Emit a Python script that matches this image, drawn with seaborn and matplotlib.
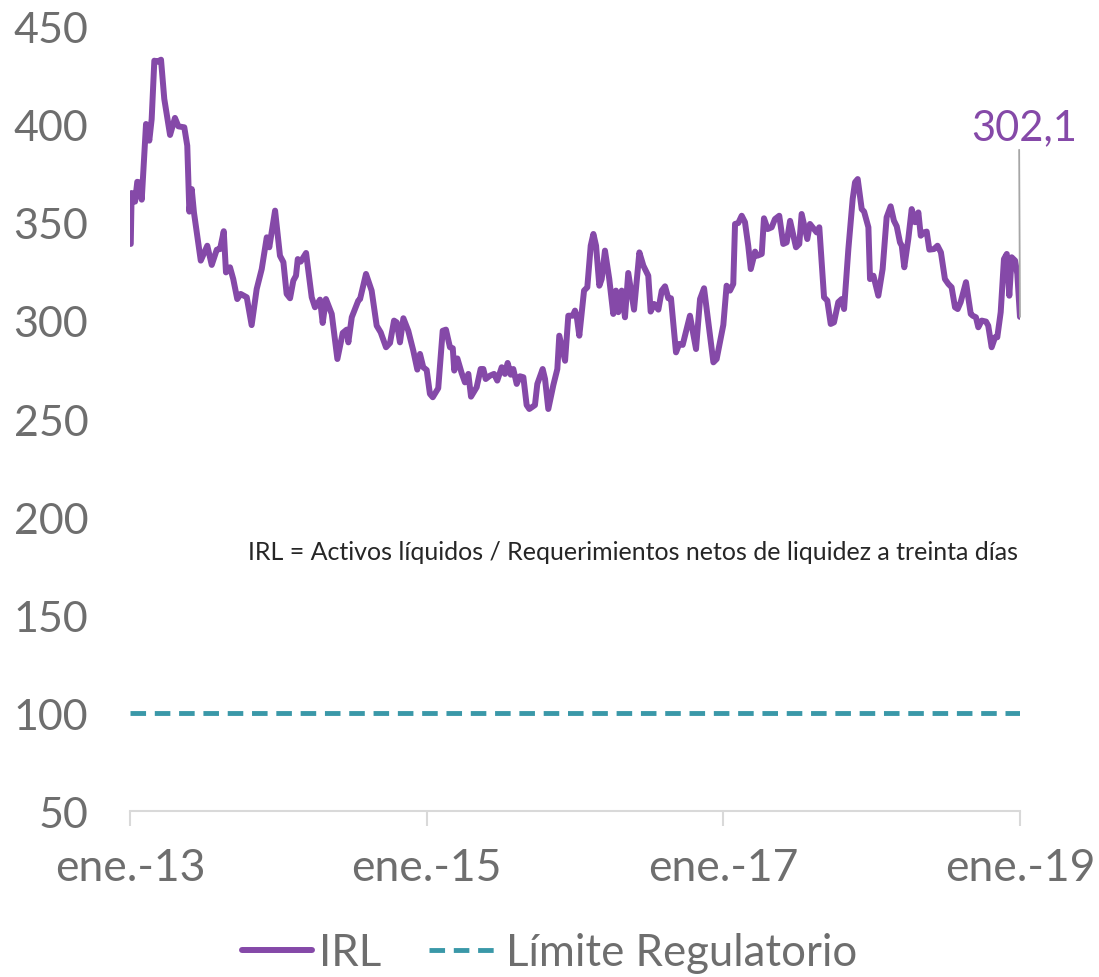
import numpy as np
import pandas as pd
import matplotlib
matplotlib.use("Agg")
import matplotlib.pyplot as plt
import seaborn as sns

# Fecha en años decimales y valor del IRL
fechas = [
    2013.005, 2013.011, 2013.034, 2013.049, 2013.063, 2013.079, 2013.108, 2013.130,
    2013.146, 2013.164, 2013.184, 2013.209, 2013.231, 2013.270, 2013.303, 2013.326,
    2013.366, 2013.386, 2013.400, 2013.416, 2013.431, 2013.477, 2013.521, 2013.551,
    2013.585, 2013.607, 2013.632, 2013.647, 2013.674, 2013.696, 2013.723, 2013.746,
    2013.787, 2013.820, 2013.854, 2013.888, 2013.922, 2013.939, 2013.978, 2014.011,
    2014.034, 2014.056, 2014.079, 2014.101, 2014.119, 2014.131, 2014.151, 2014.187,
    2014.225, 2014.247, 2014.281, 2014.299, 2014.321, 2014.360, 2014.398, 2014.434,
    2014.461, 2014.472, 2014.495, 2014.539, 2014.551, 2014.591, 2014.629, 2014.663,
    2014.690, 2014.726, 2014.753, 2014.780, 2014.798, 2014.820, 2014.843, 2014.876,
    2014.910, 2014.937, 2014.955, 2014.977, 2015.000, 2015.022, 2015.041, 2015.078,
    2015.108, 2015.130, 2015.157, 2015.176, 2015.186, 2015.207, 2015.236, 2015.258,
    2015.281, 2015.299, 2015.337, 2015.364, 2015.382, 2015.398, 2015.427, 2015.454,
    2015.476, 2015.506, 2015.528, 2015.546, 2015.567, 2015.584, 2015.607, 2015.629,
    2015.652, 2015.674, 2015.692, 2015.730, 2015.746, 2015.782, 2015.798, 2015.820,
    2015.854, 2015.881, 2015.894, 2015.917, 2015.933, 2015.955, 2015.985, 2016.000,
    2016.011, 2016.029, 2016.061, 2016.083, 2016.106, 2016.124, 2016.142, 2016.164,
    2016.180, 2016.202, 2016.231, 2016.258, 2016.276, 2016.292, 2016.315, 2016.337,
    2016.359, 2016.376, 2016.398, 2016.434, 2016.461, 2016.494, 2016.510, 2016.533,
    2016.562, 2016.585, 2016.607, 2016.629, 2016.647, 2016.681, 2016.703, 2016.726,
    2016.775, 2016.816, 2016.843, 2016.870, 2016.899, 2016.933, 2016.955, 2017.000,
    2017.022, 2017.045, 2017.067, 2017.079, 2017.101, 2017.124, 2017.146, 2017.168,
    2017.185, 2017.214, 2017.229, 2017.259, 2017.274, 2017.299, 2017.326, 2017.348,
    2017.377, 2017.404, 2017.427, 2017.450, 2017.490, 2017.512, 2017.528, 2017.566,
    2017.584, 2017.611, 2017.629, 2017.647, 2017.679, 2017.701, 2017.724, 2017.746,
    2017.775, 2017.798, 2017.814, 2017.843, 2017.872, 2017.888, 2017.906, 2017.933,
    2017.949, 2017.978, 2017.989, 2018.012, 2018.045, 2018.074, 2018.101, 2018.128,
    2018.150, 2018.169, 2018.191, 2018.203, 2018.220, 2018.247, 2018.270, 2018.292,
    2018.315, 2018.331, 2018.353, 2018.371, 2018.389, 2018.420, 2018.444, 2018.467,
    2018.494, 2018.517, 2018.539, 2018.562, 2018.580, 2018.600, 2018.636, 2018.668,
    2018.681, 2018.703, 2018.719, 2018.742, 2018.771, 2018.786, 2018.809, 2018.832,
    2018.847, 2018.870, 2018.892, 2018.911, 2018.928, 2018.944, 2018.967, 2018.982,
    2019.000,
]
irl = [
    339.3, 365.3, 360.9, 371.0, 370.7, 361.9, 400.5, 392.0,
    403.0, 432.8, 432.3, 433.3, 413.3, 394.9, 403.6, 399.3,
    398.8, 389.4, 355.8, 367.3, 355.4, 330.8, 338.4, 328.6,
    336.4, 336.7, 345.8, 324.8, 327.4, 321.4, 311.2, 313.8,
    312.1, 297.9, 316.3, 326.5, 342.7, 337.6, 356.3, 333.3,
    330.0, 313.8, 311.6, 320.6, 323.1, 331.6, 330.3, 334.7,
    312.1, 307.0, 310.9, 299.0, 311.2, 303.6, 280.6, 293.9,
    295.6, 289.1, 301.9, 310.4, 311.2, 324.0, 315.5, 297.6,
    294.2, 286.6, 288.8, 300.2, 299.3, 289.1, 301.4, 295.0,
    284.8, 275.2, 283.2, 276.4, 275.0, 262.8, 261.1, 265.7,
    295.0, 295.6, 286.6, 286.1, 274.7, 280.9, 273.4, 268.7,
    273.0, 261.4, 266.2, 275.5, 275.5, 270.4, 272.1, 273.0,
    269.6, 276.4, 273.0, 278.6, 272.6, 275.5, 267.9, 271.8,
    271.3, 257.1, 255.1, 257.1, 267.9, 275.5, 270.4, 255.1,
    267.3, 275.5, 292.5, 284.8, 279.7, 302.7, 302.7, 305.3,
    302.7, 292.5, 315.5, 317.2, 338.4, 344.4, 338.4, 318.0,
    321.4, 335.9, 321.4, 303.6, 315.5, 304.5, 315.5, 301.9,
    324.5, 316.3, 305.8, 335.0, 328.2, 323.1, 304.8, 308.7,
    305.8, 315.5, 317.7, 311.6, 311.6, 284.0, 288.3, 287.8,
    302.7, 285.7, 311.2, 316.7, 299.3, 278.9, 280.6, 298.0,
    318.0, 315.5, 318.9, 349.5, 350.0, 353.7, 350.4, 338.4,
    326.5, 335.4, 333.3, 334.2, 352.4, 346.9, 347.8, 352.0,
    353.7, 339.3, 340.1, 351.1, 337.6, 339.3, 354.6, 341.8,
    349.5, 346.9, 345.2, 347.8, 312.1, 310.4, 298.5, 299.3,
    309.6, 311.2, 306.1, 336.7, 362.2, 370.8, 372.4, 357.1,
    355.8, 347.8, 321.4, 323.1, 312.9, 326.5, 352.9, 358.5,
    351.2, 348.3, 340.1, 338.4, 327.4, 341.8, 357.1, 350.4,
    355.4, 343.5, 345.2, 345.6, 336.4, 336.7, 338.4, 335.0,
    321.4, 318.9, 317.2, 307.0, 306.1, 309.6, 319.8, 303.6,
    302.7, 301.9, 296.8, 300.2, 299.7, 297.6, 286.6, 291.7,
    291.7, 304.5, 331.6, 334.2, 312.9, 332.5, 330.8, 324.0,
    302.1,
]
limite_fechas = [2013.0, 2019.0]
limite_valores = [100, 100]

x_ticks = [2013, 2015, 2017, 2019]
x_labels = ["ene.-13", "ene.-15", "ene.-17", "ene.-19"]
y_ticks = [50, 100, 150, 200, 250, 300, 350, 400, 450]

morado = "#8549A8"
verde = "#3A98A8"
gris = "#6E6E6E"

sns.set_style("white")
plt.rcParams["font.family"] = ["Lato", "DejaVu Sans"]

df = pd.DataFrame({"fecha": fechas, "IRL": irl})
df_lim = pd.DataFrame({"fecha": limite_fechas, "Límite Regulatorio": limite_valores})

fig = plt.figure(figsize=(10.99, 9.78), dpi=100)
ax = fig.add_axes([0.1183, 0.1697, 0.8098, 0.8017])

sns.lineplot(data=df, x="fecha", y="IRL", ax=ax, color=morado, lw=4.3,
             label="IRL")
sns.lineplot(data=df_lim, x="fecha", y="Límite Regulatorio", ax=ax, color=verde,
             lw=3.5, label="Límite Regulatorio", dashes=False)
ax.lines[1].set_dashes((3.2, 1.8))

ax.set_xlim(2013, 2019)
ax.set_ylim(50, 450)
ax.set_xticks(x_ticks)
ax.set_xticklabels(x_labels)
ax.set_yticks(y_ticks)
ax.set_xlabel("")
ax.set_ylabel("")

for s in ["top", "right", "left"]:
    ax.spines[s].set_visible(False)
ax.spines["bottom"].set_color("#D9D9D9")
ax.spines["bottom"].set_linewidth(1.5)
ax.tick_params(axis="x", length=11, width=1.5, color="#D9D9D9", pad=15,
               labelsize=32, labelcolor=gris, direction="out", bottom=True)
ax.tick_params(axis="y", length=0, pad=30, labelsize=31, labelcolor=gris)

# Etiqueta del último dato
ax.annotate("302,1", xy=(fechas[-1], irl[-1]), xytext=(2019.03, 389),
            ha="center", va="bottom", color=morado, fontsize=30,
            annotation_clip=False,
            arrowprops=dict(arrowstyle="-", color="#A6A6A6", lw=1.3,
                            shrinkA=0, shrinkB=0, relpos=(0.45, 0)))

ax.text(2018.99, 182.5,
        "IRL = Activos líquidos / Requerimientos netos de liquidez a treinta días",
        ha="right", va="center", fontsize=18, color="#262626")

ax.get_legend().remove()
handles, labels = ax.get_legend_handles_labels()
fig.legend(handles, labels, loc="center", bbox_to_anchor=(0.5, 0.025), ncol=2,
           frameon=False, fontsize=31.5, labelcolor=gris, handlelength=1.6,
           handletextpad=0.15, columnspacing=1.1)

fig.savefig("out.png", dpi=100)
